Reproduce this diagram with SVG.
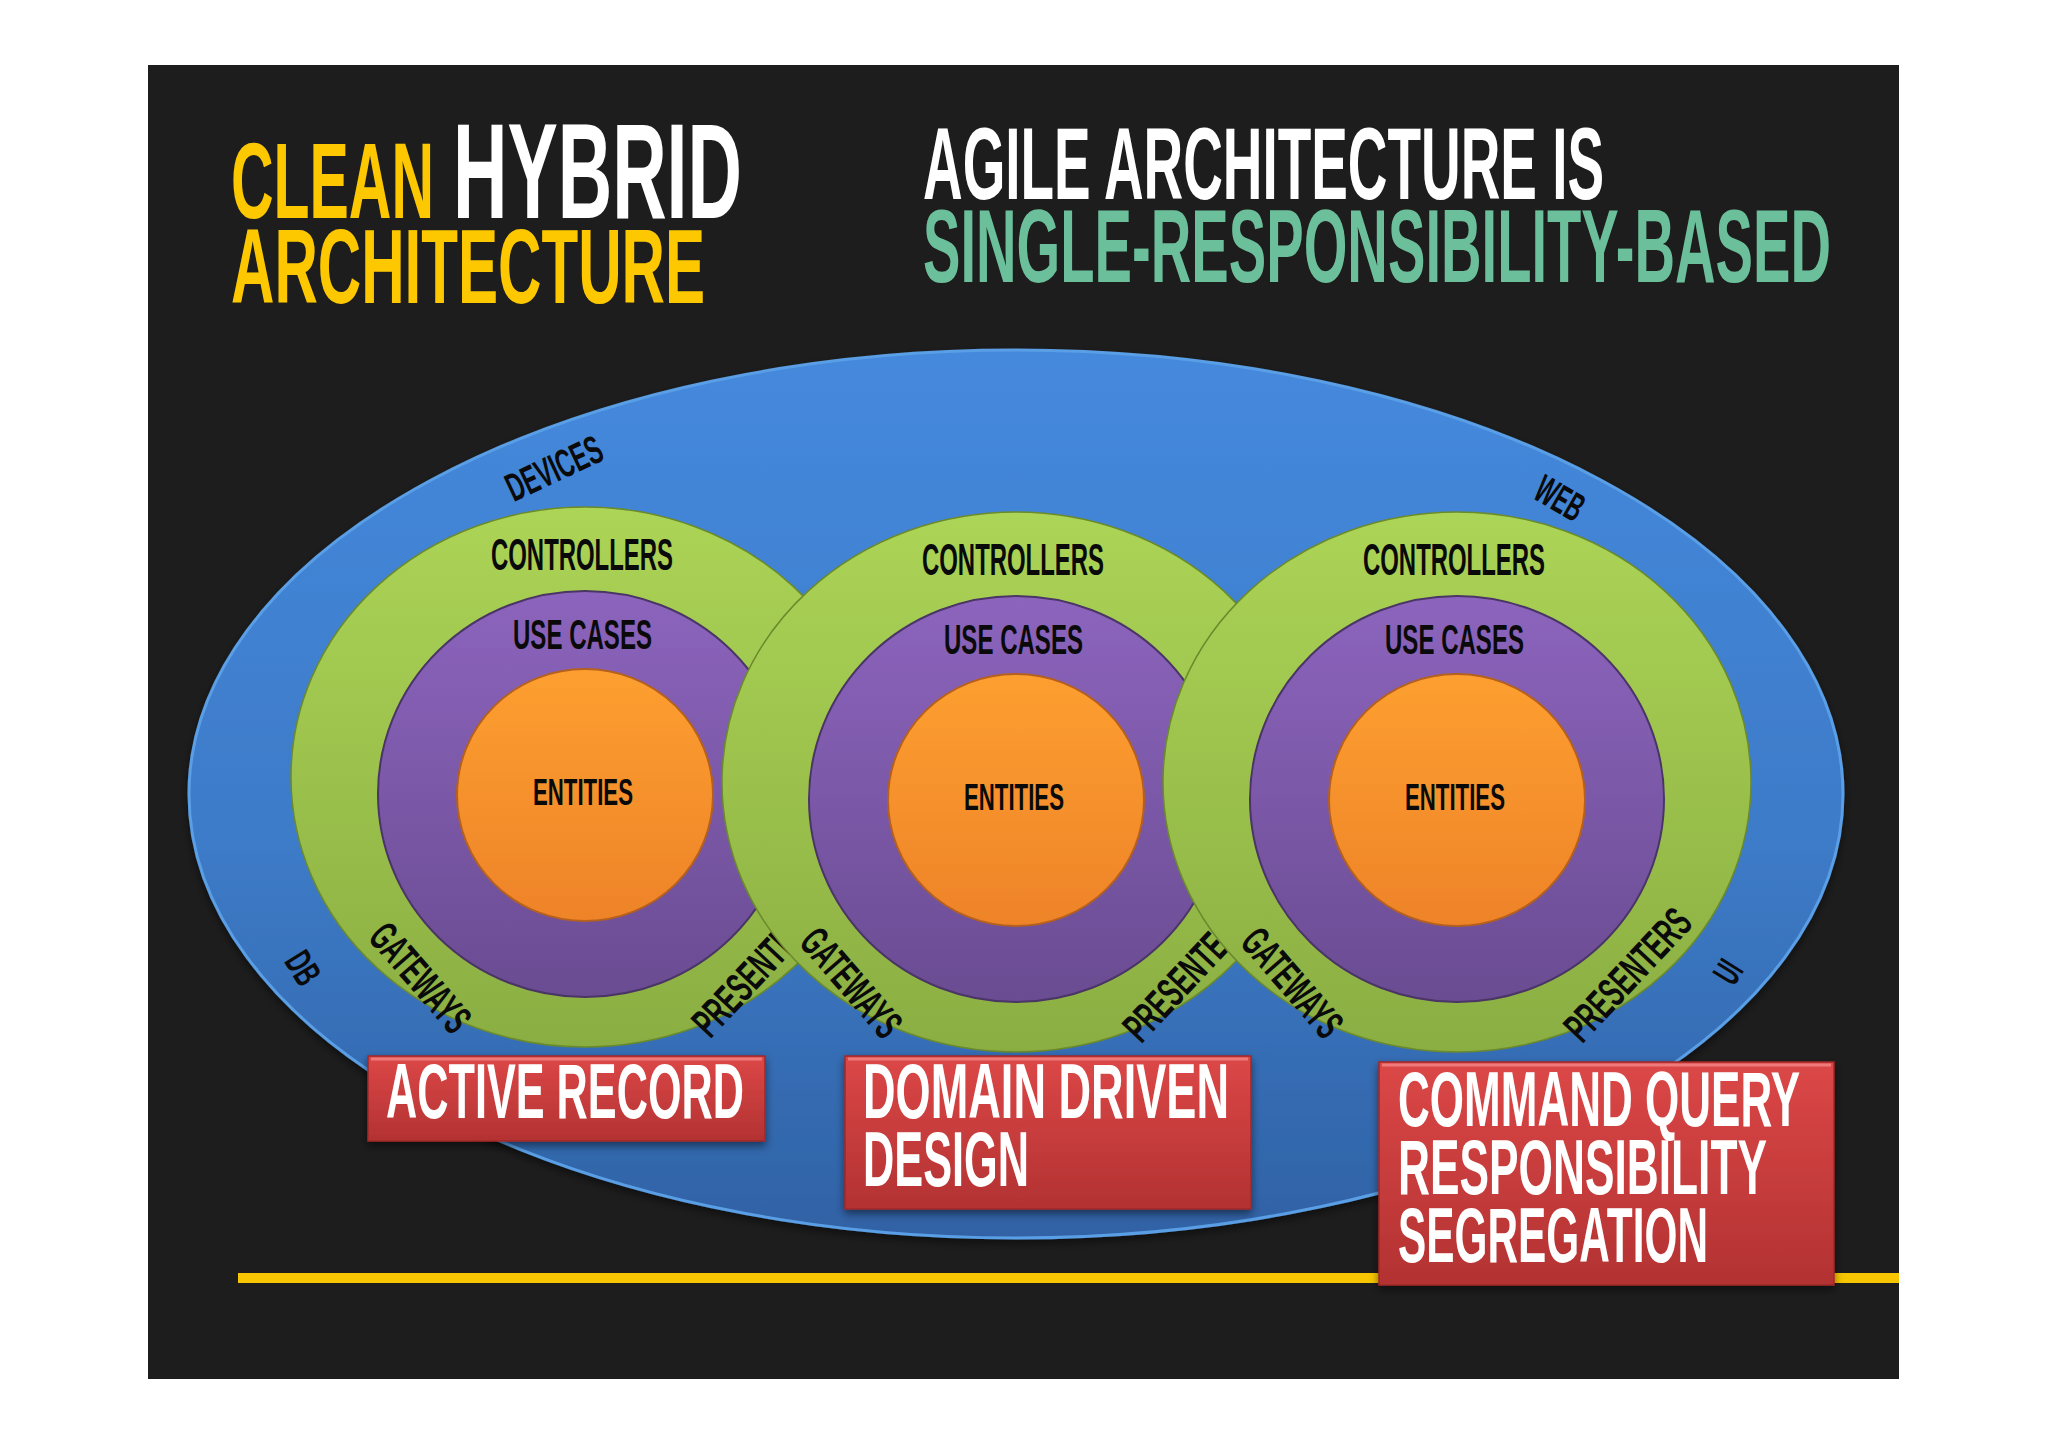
<svg xmlns="http://www.w3.org/2000/svg" width="2048" height="1447" viewBox="0 0 2048 1447">
<defs>
<linearGradient id="gBlue" x1="0" y1="0" x2="0" y2="1"><stop offset="0" stop-color="#4589dd"/><stop offset="0.55" stop-color="#3d7bc8"/><stop offset="1" stop-color="#3062a5"/></linearGradient>
<linearGradient id="gGreen" x1="0" y1="0" x2="0" y2="1"><stop offset="0" stop-color="#acd456"/><stop offset="1" stop-color="#8aae42"/></linearGradient>
<linearGradient id="gPurple" x1="0" y1="0" x2="0" y2="1"><stop offset="0" stop-color="#8c64bd"/><stop offset="1" stop-color="#6a4c92"/></linearGradient>
<linearGradient id="gOrange" x1="0" y1="0" x2="0" y2="1"><stop offset="0" stop-color="#fd9f30"/><stop offset="1" stop-color="#ee8328"/></linearGradient>
<linearGradient id="gRed" x1="0" y1="0" x2="0" y2="1"><stop offset="0" stop-color="#dc4747"/><stop offset="1" stop-color="#b33232"/></linearGradient>
<filter id="shadow" x="-10%" y="-10%" width="120%" height="130%"><feDropShadow dx="0" dy="4" stdDeviation="4" flood-color="#000" flood-opacity="0.5"/></filter>
</defs>
<style>
.t{font-family:"Liberation Sans",Arial,sans-serif;font-weight:bold}
.blk{fill:#0a0a0a}
.wht{fill:#ffffff}
.grn{fill:url(#gGreen);stroke:#6b8a2c;stroke-width:1.5}
.pur{fill:url(#gPurple);stroke:#4a3566;stroke-width:2}
.org{fill:url(#gOrange);stroke:#b5601c;stroke-width:2}
.box{fill:url(#gRed);stroke:#a02828;stroke-width:1.5}
.hl{fill:none;stroke:#ee7a7a;stroke-width:3}
</style>
<rect x="0" y="0" width="2048" height="1447" fill="#ffffff"/>
<rect x="148" y="65" width="1751" height="1314" fill="#1d1d1d"/>

<g id="title-left">
<text class="t" x="231" y="218" font-size="107" fill="#fdc800" textLength="203" lengthAdjust="spacingAndGlyphs">CLEAN</text>
<text class="t wht" x="453" y="218" font-size="135" textLength="289" lengthAdjust="spacingAndGlyphs">HYBRID</text>
<text class="t" x="231" y="303" font-size="105" fill="#fdc800" textLength="474" lengthAdjust="spacingAndGlyphs">ARCHITECTURE</text>
</g>
<g id="title-right">
<text class="t wht" x="923" y="199" font-size="102" textLength="681" lengthAdjust="spacingAndGlyphs">AGILE ARCHITECTURE IS</text>
<text class="t" x="923" y="282" font-size="103" fill="#6cbf9b" textLength="908" lengthAdjust="spacingAndGlyphs">SINGLE-RESPONSIBILITY-BASED</text>
</g>

<g id="outer-ring">
<ellipse cx="1016" cy="794" rx="827" ry="444" fill="url(#gBlue)" stroke="#5a9fe6" stroke-width="3" filter="url(#shadow)"/>
<text class="t blk" transform="translate(554,468) rotate(-25)" x="-51" y="14" font-size="40" textLength="102" lengthAdjust="spacingAndGlyphs">DEVICES</text>
<text class="t blk" transform="translate(1560,498) rotate(30)" x="-25" y="14" font-size="40" textLength="50" lengthAdjust="spacingAndGlyphs">WEB</text>
<text class="t blk" transform="translate(303,968) rotate(58)" x="-16" y="13" font-size="38" textLength="32" lengthAdjust="spacingAndGlyphs">DB</text>
<text class="t blk" transform="translate(1728,972) rotate(-58)" x="-10" y="13" font-size="38" textLength="20" lengthAdjust="spacingAndGlyphs">UI</text>
</g>

<g id="circle-active-record" transform="translate(-431,-5)">
<ellipse class="grn" cx="1016" cy="782" rx="294" ry="270"/>
<ellipse class="pur" cx="1016" cy="799" rx="207" ry="203"/>
<ellipse class="org" cx="1016" cy="800" rx="128" ry="126"/>
<text class="t blk" x="922" y="575" font-size="44" textLength="182" lengthAdjust="spacingAndGlyphs">CONTROLLERS</text>
<text class="t blk" x="944" y="654" font-size="42" textLength="139" lengthAdjust="spacingAndGlyphs">USE CASES</text>
<text class="t blk" x="964" y="810" font-size="36" textLength="100" lengthAdjust="spacingAndGlyphs">ENTITIES</text>
<text class="t blk" transform="translate(851,983) rotate(49)" x="-65" y="14" font-size="42" textLength="130" lengthAdjust="spacingAndGlyphs">GATEWAYS</text>
<text class="t blk" transform="translate(1187,975) rotate(-47)" x="-82" y="14" font-size="42" textLength="164" lengthAdjust="spacingAndGlyphs">PRESENTERS</text>
</g>

<g id="circle-domain-driven">
<ellipse class="grn" cx="1016" cy="782" rx="294" ry="270"/>
<ellipse class="pur" cx="1016" cy="799" rx="207" ry="203"/>
<ellipse class="org" cx="1016" cy="800" rx="128" ry="126"/>
<text class="t blk" x="922" y="575" font-size="44" textLength="182" lengthAdjust="spacingAndGlyphs">CONTROLLERS</text>
<text class="t blk" x="944" y="654" font-size="42" textLength="139" lengthAdjust="spacingAndGlyphs">USE CASES</text>
<text class="t blk" x="964" y="810" font-size="36" textLength="100" lengthAdjust="spacingAndGlyphs">ENTITIES</text>
<text class="t blk" transform="translate(851,983) rotate(49)" x="-65" y="14" font-size="42" textLength="130" lengthAdjust="spacingAndGlyphs">GATEWAYS</text>
<text class="t blk" transform="translate(1187,975) rotate(-47)" x="-82" y="14" font-size="42" textLength="164" lengthAdjust="spacingAndGlyphs">PRESENTERS</text>
</g>

<g id="circle-cqrs" transform="translate(441,0)">
<ellipse class="grn" cx="1016" cy="782" rx="294" ry="270"/>
<ellipse class="pur" cx="1016" cy="799" rx="207" ry="203"/>
<ellipse class="org" cx="1016" cy="800" rx="128" ry="126"/>
<text class="t blk" x="922" y="575" font-size="44" textLength="182" lengthAdjust="spacingAndGlyphs">CONTROLLERS</text>
<text class="t blk" x="944" y="654" font-size="42" textLength="139" lengthAdjust="spacingAndGlyphs">USE CASES</text>
<text class="t blk" x="964" y="810" font-size="36" textLength="100" lengthAdjust="spacingAndGlyphs">ENTITIES</text>
<text class="t blk" transform="translate(851,983) rotate(49)" x="-65" y="14" font-size="42" textLength="130" lengthAdjust="spacingAndGlyphs">GATEWAYS</text>
<text class="t blk" transform="translate(1187,975) rotate(-47)" x="-82" y="14" font-size="42" textLength="164" lengthAdjust="spacingAndGlyphs">PRESENTERS</text>
</g>

<g id="connectors"></g>

<rect id="baseline-bar" x="238" y="1273" width="1661" height="10" fill="#f7c600"/>

<g id="label-active-record">
<rect class="box" x="368" y="1056" width="397" height="85" filter="url(#shadow)"/>
<path class="hl" d="M371,1059 H762"/>
<text class="t wht" x="386" y="1118" font-size="77" textLength="358" lengthAdjust="spacingAndGlyphs">ACTIVE RECORD</text>
</g>
<g id="label-domain-driven">
<rect class="box" x="845" y="1056" width="406" height="153" filter="url(#shadow)"/>
<path class="hl" d="M848,1059 H1248"/>
<text class="t wht" x="863" y="1118" font-size="77" textLength="366" lengthAdjust="spacingAndGlyphs">DOMAIN DRIVEN</text>
<text class="t wht" x="863" y="1186" font-size="77" textLength="166" lengthAdjust="spacingAndGlyphs">DESIGN</text>
</g>
<g id="label-cqrs">
<rect class="box" x="1379" y="1062" width="455" height="223" filter="url(#shadow)"/>
<path class="hl" d="M1382,1065 H1831"/>
<text class="t wht" x="1398" y="1126" font-size="78" textLength="402" lengthAdjust="spacingAndGlyphs">COMMAND QUERY</text>
<text class="t wht" x="1398" y="1194" font-size="78" textLength="369" lengthAdjust="spacingAndGlyphs">RESPONSIBILITY</text>
<text class="t wht" x="1398" y="1262" font-size="78" textLength="310" lengthAdjust="spacingAndGlyphs">SEGREGATION</text>
</g>
</svg>
